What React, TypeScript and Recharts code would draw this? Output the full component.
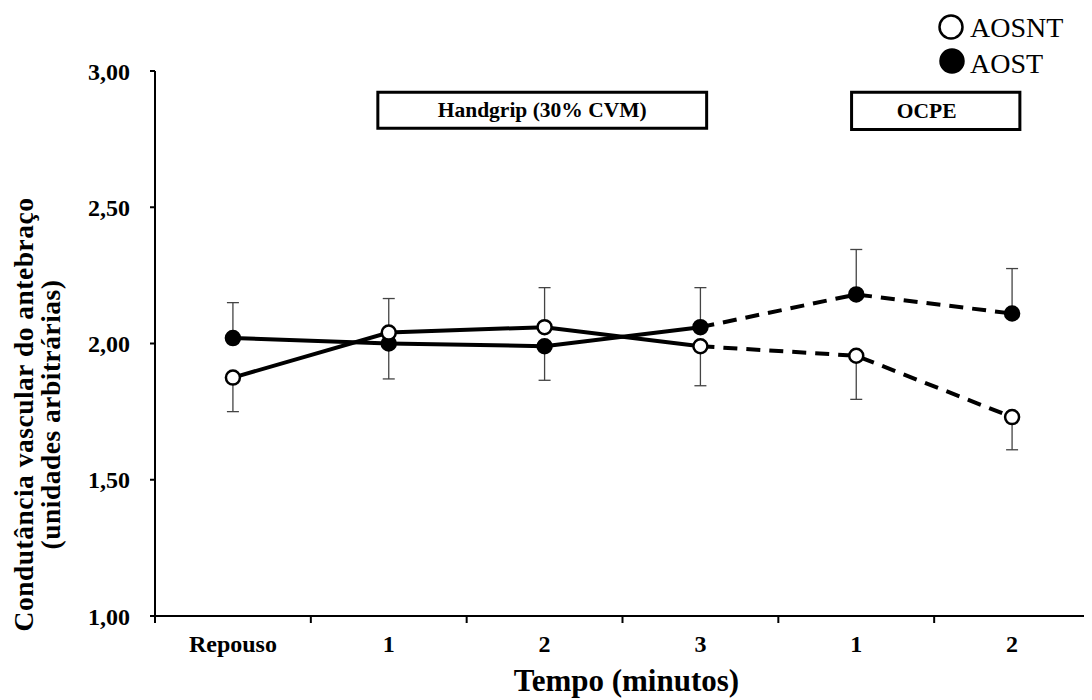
import React from 'react';
import { ComposedChart, Line, XAxis, YAxis, ErrorBar, ReferenceArea, Label, Legend } from 'recharts';

// ---- data ----
const categories = ['Repouso', '1', '2', '3', '1', '2'];
const xPositions = [0.5, 1.5, 2.5, 3.5, 4.5, 5.5];
const boundaryTicks = [0, 1, 2, 3, 4, 5, 6];
const yTicks = [1, 1.5, 2, 2.5, 3];

const aosntValues = [1.875, 2.04, 2.06, 1.99, 1.955, 1.73];
const aosntErrLow = [0.125, 0, 0, 0.145, 0.16, 0.12];
const aosntErrHigh = [0, 0.125, 0.145, 0, 0, 0];

const aostValues = [2.02, 2.0, 1.99, 2.06, 2.18, 2.11];
const aostErrLow = [0, 0.13, 0.125, 0, 0, 0];
const aostErrHigh = [0.13, 0, 0, 0.145, 0.165, 0.165];

const lastSolidIndex = 3; // handgrip phase ends at minute 3; OCPE is dashed

const boxLabels = ['Handgrip (30% CVM)', 'OCPE'];
const boxX1 = [1.43, 4.47];
const boxX2 = [3.54, 5.55];
const boxYLow = [2.79, 2.785];
const boxYHigh = [2.922, 2.922];

const data = categories.map((c, i) => ({
  x: xPositions[i],
  label: c,
  aosnt: aosntValues[i],
  aost: aostValues[i],
  aosntSolid: i <= lastSolidIndex ? aosntValues[i] : null,
  aostSolid: i <= lastSolidIndex ? aostValues[i] : null,
  aosntDash: i >= lastSolidIndex ? aosntValues[i] : null,
  aostDash: i >= lastSolidIndex ? aostValues[i] : null,
  aosntErr: [aosntErrLow[i], aosntErrHigh[i]],
  aostErr: [aostErrLow[i], aostErrHigh[i]],
}));

const FONT = "'Liberation Serif', 'Times New Roman', serif";

const YTitle = (props: any) => {
  const vb = props.viewBox || { x: 0, y: 0, width: 0, height: 0 };
  const cy = vb.y + vb.height / 2 + 71;
  const x1 = vb.x + 25;
  const x2 = vb.x + 52;
  return (
    <g style={{ fontFamily: FONT, fontWeight: 'bold', fontSize: 27.5, letterSpacing: 0.5 }} fill="#000">
      <text transform={`translate(${x1},${cy}) rotate(-90)`} textAnchor="middle">
        Condutância vascular do antebraço
      </text>
      <text transform={`translate(${x2},${cy}) rotate(-90)`} textAnchor="middle">
        (unidades arbitrárias)
      </text>
    </g>
  );
};

const XTitle = (props: any) => {
  const vb = props.viewBox || { x: 0, y: 0, width: 0, height: 0 };
  return (
    <text
      x={vb.x + vb.width / 2 + 4}
      y={vb.y + 75}
      textAnchor="middle"
      style={{ fontFamily: FONT, fontWeight: 'bold', fontSize: 31 }}
      fill="#000"
    >
      Tempo (minutos)
    </text>
  );
};

const XTick = (props: any) => {
  const { x, y, payload } = props;
  const idx = Math.round(payload.value);
  if (idx < 0 || idx >= categories.length) return null;
  const axisWidth = typeof props.width === 'number' ? props.width : 935;
  const half = axisWidth / (boundaryTicks.length - 1) / 2;
  return (
    <text
      x={x + half}
      y={y}
      dy={25}
      textAnchor="middle"
      style={{ fontFamily: FONT, fontWeight: 'bold', fontSize: 24 }}
      fill="#000"
    >
      {categories[idx]}
    </text>
  );
};

const makeBoxLabel = (text: string, shift: number) => (props: any) => {
  const vb = props.viewBox || { x: 0, y: 0, width: 0, height: 0 };
  return (
    <text
      x={vb.x + vb.width / 2 + shift}
      y={vb.y + vb.height / 2 + 7}
      textAnchor="middle"
      style={{ fontFamily: FONT, fontWeight: 'bold', fontSize: 21.5 }}
      fill="#000"
    >
      {text}
    </text>
  );
};

const LegendContent = () => (
  <svg width={150} height={80} style={{ overflow: 'visible' }}>
    <circle cx={13} cy={19} r={11.5} fill="#fff" stroke="#000" strokeWidth={2.5} />
    <text x={32} y={29} style={{ fontFamily: FONT, fontSize: 28 }} fill="#000">AOSNT</text>
    <circle cx={14} cy={53} r={11.5} fill="#000" stroke="#000" strokeWidth={2.5} />
    <text x={32} y={65} style={{ fontFamily: FONT, fontSize: 28 }} fill="#000">AOST</text>
  </svg>
);

const yFmt = (v: number) => v.toFixed(2).replace('.', ',');

const tickStyle = { fontSize: 24, fontWeight: 'bold', fill: '#000', fontFamily: FONT };
const axisLineStyle = { stroke: '#000', strokeWidth: 2 };

export default function App() {
  return (
    <div style={{ width: 1084, height: 692, fontFamily: FONT }}>
      <ComposedChart
        width={1084}
        height={692}
        data={data}
        margin={{ top: 63, right: 2, bottom: 0, left: 0 }}
      >
        <XAxis
          type="number"
          dataKey="x"
          domain={[0, 6]}
          ticks={boundaryTicks}
          tick={<XTick />}
          tickSize={7}
          tickMargin={4}
          height={84}
          interval={0}
          stroke="#000"
          axisLine={axisLineStyle}
          tickLine={axisLineStyle}
          allowDataOverflow
          label={<Label content={XTitle} />}
        />
        <YAxis
          type="number"
          domain={[1, 3]}
          ticks={yTicks}
          tickFormatter={yFmt}
          width={147}
          tickSize={5}
          tickMargin={20}
          tick={tickStyle}
          axisLine={axisLineStyle}
          tickLine={axisLineStyle}
          interval={0}
          allowDataOverflow
          label={<Label content={YTitle} />}
        />
        <Legend
          content={LegendContent}
          layout="horizontal"
          verticalAlign="middle"
          align="center"
          wrapperStyle={{ position: 'absolute', left: 930, top: 0, width: 150, height: 80 }}
        />
        {boxLabels.map((t, i) => (
          <ReferenceArea
            key={t}
            x1={boxX1[i]}
            x2={boxX2[i]}
            y1={boxYLow[i]}
            y2={boxYHigh[i]}
            ifOverflow="visible"
            fill="#fff"
            fillOpacity={1}
            stroke="#000"
            strokeWidth={3}
            label={<Label content={makeBoxLabel(t, i === 1 ? -9 : 0)} />}
          />
        ))}
        <Line dataKey="aosntSolid" type="linear" stroke="#000" strokeWidth={4} dot={false} activeDot={false} isAnimationActive={false} legendType="none" />
        <Line dataKey="aostSolid" type="linear" stroke="#000" strokeWidth={4} dot={false} activeDot={false} isAnimationActive={false} legendType="none" />
        <Line dataKey="aosntDash" type="linear" stroke="#000" strokeWidth={4} strokeDasharray="14 9" dot={false} activeDot={false} isAnimationActive={false} legendType="none" />
        <Line dataKey="aostDash" type="linear" stroke="#000" strokeWidth={4} strokeDasharray="14 9" dot={false} activeDot={false} isAnimationActive={false} legendType="none" />
        <Line
          dataKey="aost"
          name="AOST"
          type="linear"
          stroke="none"
          strokeWidth={0}
          dot={{ r: 7, fill: '#000', stroke: '#000', strokeWidth: 2.5 }}
          activeDot={false}
          isAnimationActive={false}
        >
          <ErrorBar dataKey="aostErr" direction="y" width={6} stroke="#444" strokeWidth={1.3} />
        </Line>
        <Line
          dataKey="aosnt"
          name="AOSNT"
          type="linear"
          stroke="none"
          strokeWidth={0}
          dot={{ r: 7, fill: '#fff', stroke: '#000', strokeWidth: 2.5 }}
          activeDot={false}
          isAnimationActive={false}
        >
          <ErrorBar dataKey="aosntErr" direction="y" width={6} stroke="#444" strokeWidth={1.3} />
        </Line>
      </ComposedChart>
    </div>
  );
}
